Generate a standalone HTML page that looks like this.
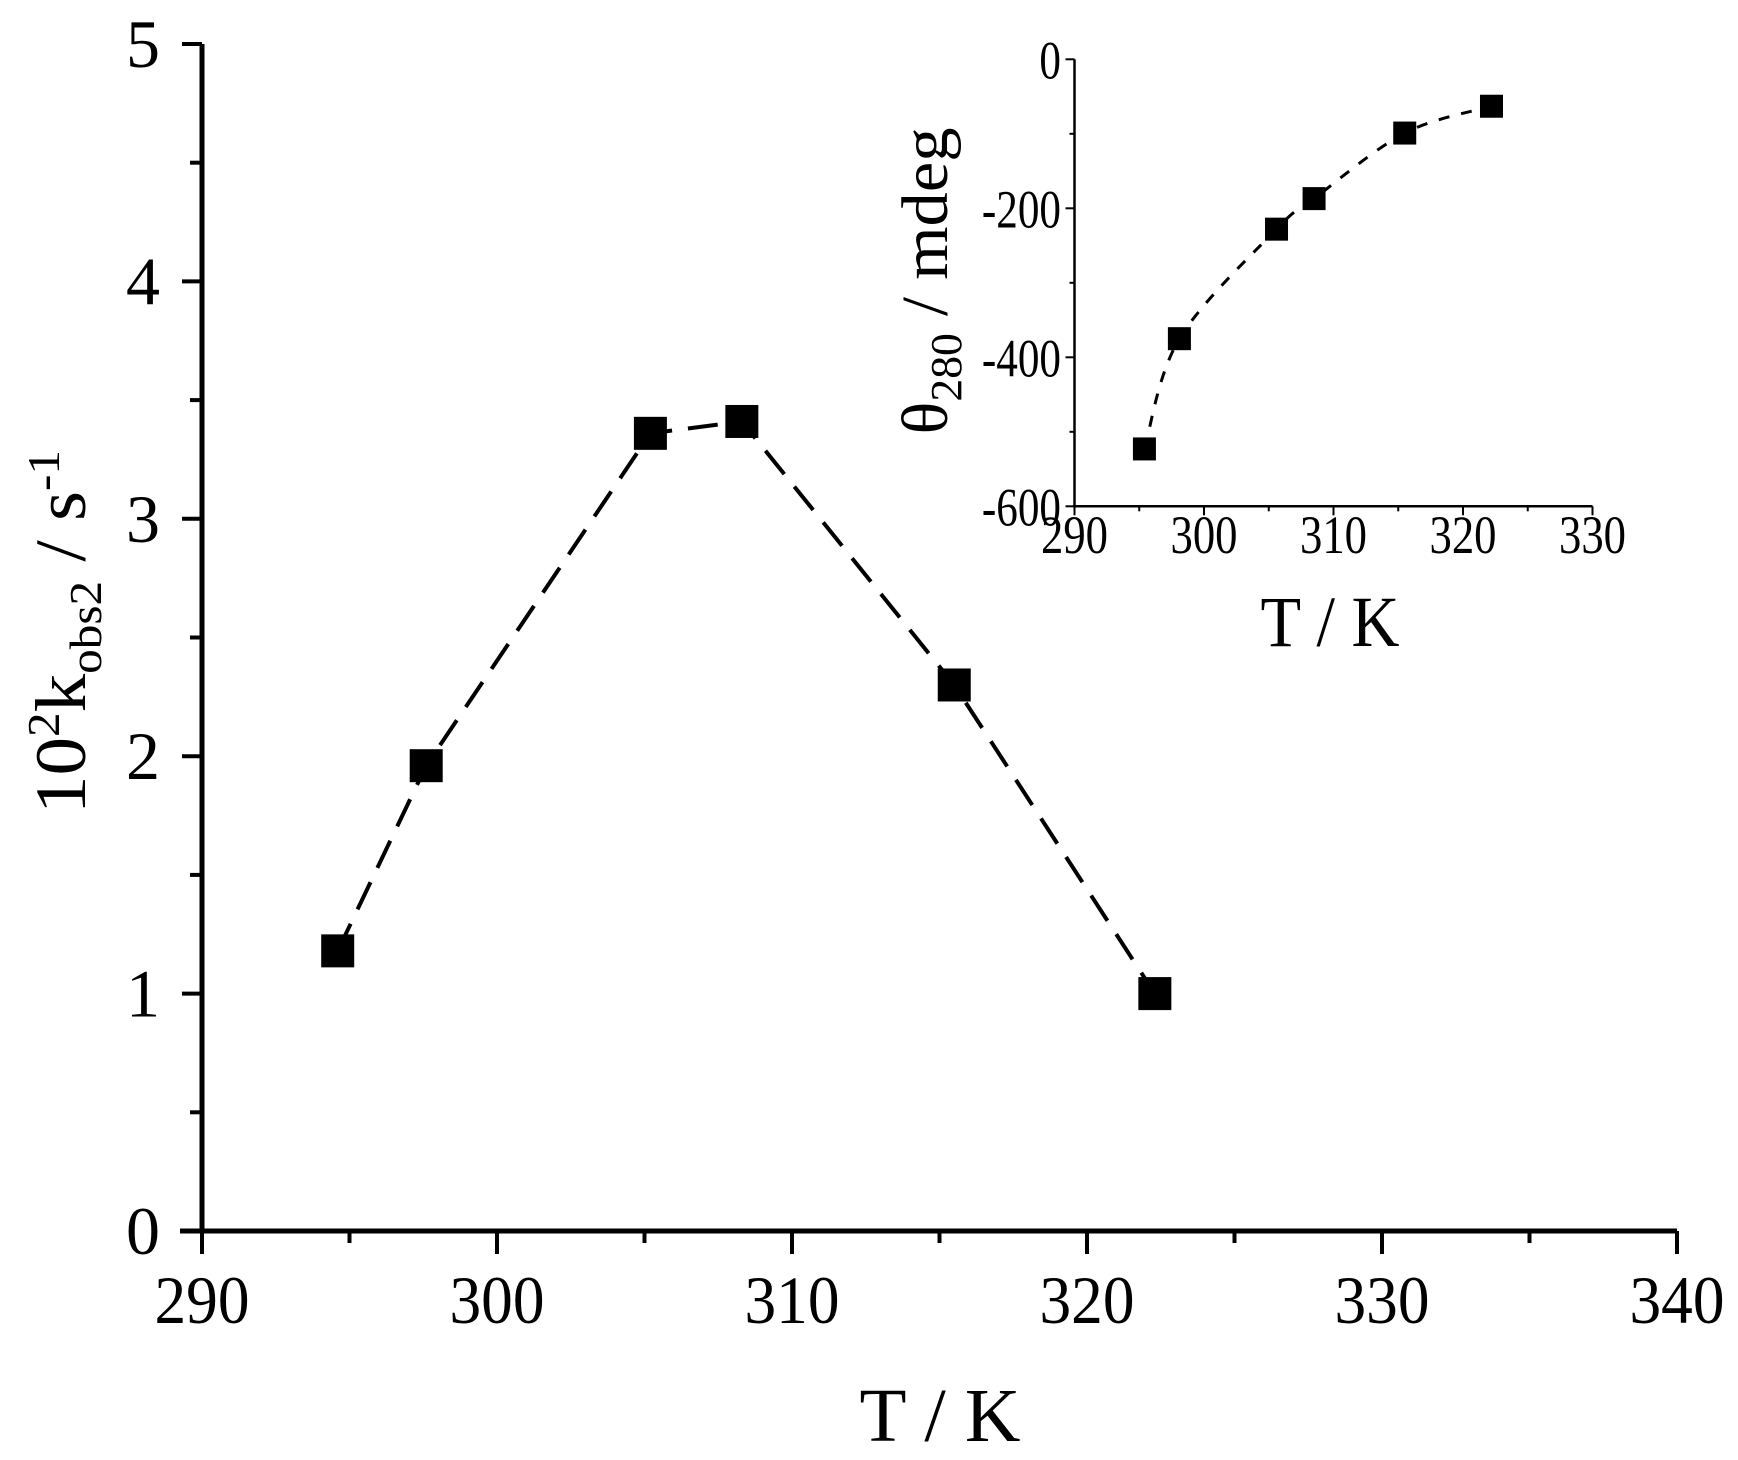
<!DOCTYPE html>
<html><head><meta charset="utf-8"><style>
html,body{margin:0;padding:0;background:#fff;}
svg{display:block;font-family:"Liberation Serif","Times New Roman",serif;}
</style></head><body>
<svg id="chart" width="1738" height="1460" viewBox="0 0 1738 1460" xmlns="http://www.w3.org/2000/svg">
<rect width="1738" height="1460" fill="#fff"/>
<g id="main"></g>
<g id="inset"></g>
<text x="940" y="1441" font-size="76" text-anchor="middle" textLength="161" lengthAdjust="spacingAndGlyphs">T / K</text>
<text transform="translate(85,632) rotate(-90)" font-size="72" text-anchor="middle" textLength="364" lengthAdjust="spacingAndGlyphs">10<tspan dy="-26" font-size="46">2</tspan><tspan dy="26">k</tspan><tspan dy="16" font-size="46">obs2</tspan><tspan dy="-16"> / s</tspan><tspan dy="-26" font-size="46">-1</tspan></text>
<text x="1330" y="646" font-size="72" text-anchor="middle" textLength="139" lengthAdjust="spacingAndGlyphs">T / K</text>
<text transform="translate(947,281) rotate(-90)" font-size="66" text-anchor="middle" textLength="307" lengthAdjust="spacingAndGlyphs">θ<tspan dy="14" font-size="44">280</tspan><tspan dy="-14"> / mdeg</tspan></text>
</svg>
<script>
// Main chart data
const mainT = [294.6, 297.6, 305.2, 308.3, 315.5, 322.3];
const mainK = [1.18, 1.96, 3.36, 3.41, 2.30, 1.00];
const mainXTicks = [290, 300, 310, 320, 330, 340];
const mainYTicks = [0, 1, 2, 3, 4, 5];
// Inset data
const insetT = [295.4, 298.1, 305.6, 308.5, 315.5, 322.2];
const insetTheta = [-523, -375, -228, -187, -99, -63];
const insetXTicks = [290, 300, 310, 320, 330];
const insetYTicks = [-600, -400, -200, 0];

const NS = "http://www.w3.org/2000/svg";
function mk(parent, tag, attrs, text) {
  const e = document.createElementNS(NS, tag);
  for (const k in attrs) e.setAttribute(k, attrs[k]);
  if (text !== undefined) e.textContent = text;
  parent.appendChild(e);
  return e;
}
// main scales
const mx = t => 202 + (t - 290) * 29.5;
const my = v => 1231 - v * 237.4;
const main = document.getElementById('main');
let el;
el = mk(main, 'line', {x1: 202, y1: my(5), x2: 202, y2: 1233, stroke: '#000', 'stroke-width': 5});


el = mk(main, 'line', {x1: 180, y1: 1231, x2: mx(340), y2: 1231, stroke: '#000', 'stroke-width': 5});


for (let t = 290; t <= 340; t += 5) {
  const major = mainXTicks.includes(t);
  el = mk(main, 'line', {x1: mx(t), y1: 1231, x2: mx(t), y2: 1231 + (major ? 23 : 12), stroke: '#000', 'stroke-width': 4});
  
  
}
mainXTicks.forEach(t => {
  el = mk(main, 'text', {x: mx(t), y: 1323, 'font-size': 68, 'text-anchor': 'middle', textLength: 95, lengthAdjust: 'spacingAndGlyphs'}, String(t));
  
  
});
for (let v = 0; v <= 5.001; v += 0.5) {
  const major = Math.abs(v - Math.round(v)) < 1e-6;
  el = mk(main, 'line', {x1: 202, y1: my(v), x2: 202 - (major ? 20 : 12), y2: my(v), stroke: '#000', 'stroke-width': 4});
  
  
}
mainYTicks.forEach(v => {
  el = mk(main, 'text', {x: 160, y: my(v) + 23, 'font-size': 68, 'text-anchor': 'end'}, String(v));
  
  
});
el = mk(main, 'polyline', {points: mainT.map((t, i) => mx(t) + ',' + my(mainK[i])).join(' '), fill: 'none', stroke: '#000', 'stroke-width': 4, 'stroke-dasharray': '30 16'});


mainT.forEach((t, i) => {
  el = mk(main, 'rect', {x: mx(t) - 16.5, y: my(mainK[i]) - 16.5, width: 33, height: 33, fill: '#000'});
  
  
});

// inset scales
const ix = t => 1074.5 + (t - 290) * 12.95;
const iy = v => 59.3 - v / 200 * 149;
const inset = document.getElementById('inset');
el = mk(inset, 'line', {x1: 1074.5, y1: iy(0), x2: 1074.5, y2: iy(-600) + 1, stroke: '#000', 'stroke-width': 2.5});


el = mk(inset, 'line', {x1: 1073, y1: iy(-600), x2: ix(330), y2: iy(-600), stroke: '#000', 'stroke-width': 2.5});


for (let t = 290; t <= 330; t += 5) {
  const major = insetXTicks.includes(t);
  el = mk(inset, 'line', {x1: ix(t), y1: iy(-600), x2: ix(t), y2: iy(-600) + (major ? 9 : 5), stroke: '#000', 'stroke-width': 2});
  
  
}
insetXTicks.forEach(t => {
  el = mk(inset, 'text', {x: ix(t), y: 553, 'font-size': 54, 'text-anchor': 'middle', textLength: 67, lengthAdjust: 'spacingAndGlyphs'}, String(t));
  
  
});
for (let v = -600; v <= 0; v += 100) {
  const major = v % 200 === 0;
  el = mk(inset, 'line', {x1: 1074.5, y1: iy(v), x2: 1074.5 - (major ? 9 : 5), y2: iy(v), stroke: '#000', 'stroke-width': 2});
  
  
}
insetYTicks.forEach(v => {
  el = mk(inset, 'text', {transform: 'translate(1061,' + (iy(v) + 19) + ') scale(0.8,1)', 'font-size': 54, 'text-anchor': 'end'}, String(v));
  
  
});
// smooth curve (Catmull-Rom) through inset points
const P = insetT.map((t, i) => [ix(t), iy(insetTheta[i])]);
let d = 'M' + P[0][0] + ',' + P[0][1];
for (let i = 0; i < P.length - 1; i++) {
  const p0 = P[i - 1] || P[i], p1 = P[i], p2 = P[i + 1], p3 = P[i + 2] || P[i + 1];
  const c1 = [p1[0] + (p2[0] - p0[0]) / 6, p1[1] + (p2[1] - p0[1]) / 6];
  const c2 = [p2[0] - (p3[0] - p1[0]) / 6, p2[1] - (p3[1] - p1[1]) / 6];
  d += ' C' + c1 + ' ' + c2 + ' ' + p2;
}
el = mk(inset, 'path', {d: d, fill: 'none', stroke: '#000', 'stroke-width': 3, 'stroke-dasharray': '11 12'});


P.forEach(p => {
  el = mk(inset, 'rect', {x: p[0] - 11.5, y: p[1] - 11.5, width: 23, height: 23, fill: '#000'});
  
  
});
</script>
</body></html>
